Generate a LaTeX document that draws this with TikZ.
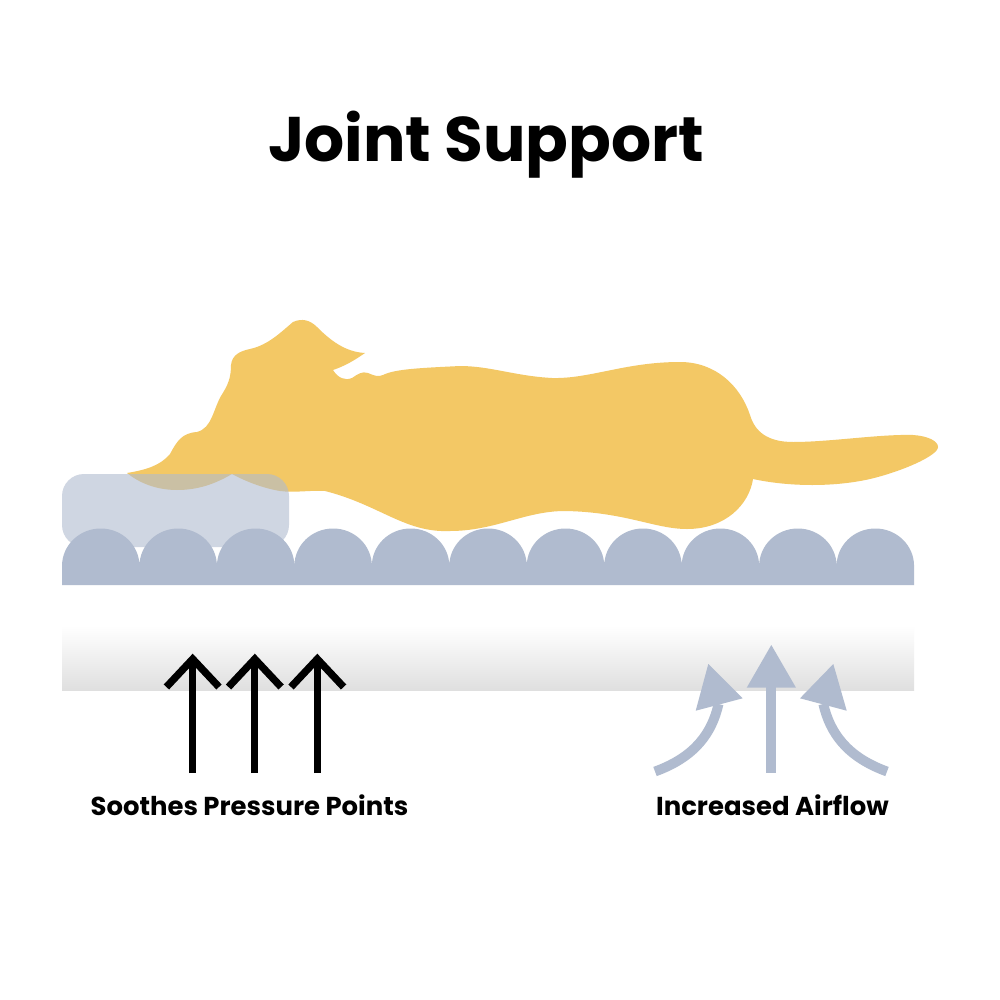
\documentclass[tikz,border=0pt]{standalone}
\usepackage{fontspec}
\setmainfont{Poppins}
\definecolor{dogyellow}{HTML}{F3C865}
\definecolor{foamblue}{HTML}{B0BBCF}
\definecolor{bandgray}{HTML}{DFDFDF}
\tikzset{
  headline/.style={font=\bfseries\fontsize{63}{70}\selectfont, text=black, anchor=base, inner sep=0pt},
  caption/.style={font=\bfseries\fontsize{25.9}{30}\selectfont, text=black, anchor=base, inner sep=0pt},
  pressure/.style={draw=black, line width=7.3pt, miter limit=10},
  airstem/.style={draw=foamblue, line width=9.8pt},
  airhead/.style={fill=foamblue, draw=none},
}
\begin{document}
\begin{tikzpicture}[x=1pt,y=-1pt]
\useasboundingbox (0,0) rectangle (1000,1000);
\fill[white] (0,0) rectangle (1000,1000);

% floor band under the mattress
\shade[top color=white, bottom color=bandgray] (62,626) rectangle (914,690);

% dog silhouette: muzzle, head and ear
\fill[dogyellow] (127,473)
  .. controls (145,470) and (160,466) .. (170,454)
  .. controls (177,441) and (182,433) .. (197,432)
  .. controls (212,428) and (213,410) .. (221,396)
  .. controls (228,385) and (231,378) .. (231,365)
  .. controls (232,355) and (240,351) .. (250,349)
  .. controls (268,345) and (280,333) .. (293,322)
  .. controls (302,318) and (310,320) .. (317,327)
  .. controls (330,340) and (345,352) .. (365,353)
  .. controls (355,360) and (345,366) .. (333,370)
  .. controls (338,378) and (345,381) .. (352,378)
  .. controls (358,374) and (362,371) .. (368,373)
  .. controls (375,376) and (378,377) .. (383,375)
  % back, haunch and tail
  .. controls (395,369) and (420,368) .. (460,366)
  .. controls (490,366) and (515,376) .. (552,378)
  .. controls (590,379) and (625,362) .. (680,362)
  .. controls (715,362) and (740,385) .. (750,415)
  .. controls (755,432) and (768,442) .. (793,442)
  .. controls (830,442) and (880,434) .. (913,435)
  .. controls (928,436) and (938,441) .. (938,447)
  .. controls (938,456) and (900,472) .. (870,479)
  .. controls (835,487) and (790,487) .. (753,479)
  % belly and chin
  .. controls (749,505) and (725,529) .. (687,529)
  .. controls (655,529) and (625,512) .. (565,511)
  .. controls (525,511) and (495,531) .. (450,531)
  .. controls (405,533) and (380,505) .. (325,491)
  .. controls (310,490) and (295,493) .. (280,491)
  .. controls (262,488) and (245,481) .. (232,474)
  .. controls (215,484) and (198,490) .. (177,490)
  .. controls (155,490) and (138,482) .. (127,473)
  -- cycle;

% translucent pillow resting on the foam
\fill[foamblue, opacity=0.6, rounded corners=22pt] (62,474) rectangle (289,547);

% convoluted foam layer
\fill[foamblue] (62,585) -- (62,566)
  \foreach \i in {0,...,10} { arc[start angle=180, end angle=0, x radius=38.73pt, y radius=37.5pt] }
  -- (914,585) -- cycle;

% pressure arrows
\foreach \n/\x in {a/192.7,b/254.8,c/317.3} {
  \coordinate (base\n) at (\x,773);
  \coordinate (apex\n) at (\x,659);
  \coordinate (left\n) at (\x-26.3,687);
  \coordinate (right\n) at (\x+26.3,687);
  \draw[pressure] (base\n) -- (apex\n);
  \draw[pressure] (left\n) -- (apex\n) -- (right\n);
}

% airflow arrows
\coordinate (midtail) at (771.3,772.7);
\coordinate (midhead) at (771.3,686);
\coordinate (lefttail) at (655,771.5);
\coordinate (lefthead) at (718.5,704);
\coordinate (righttail) at (887,771.5);
\coordinate (righthead) at (823.3,704);
\draw[airstem] (midtail) -- (midhead);
\fill[airhead] (771.3,645) -- (796,687.7) -- (746.7,687.7) -- cycle;
\draw[airstem] (lefttail) .. controls (695,757) and (712,733) .. (lefthead);
\fill[airhead] (708.3,664) -- (742.7,698.3) -- (695.7,710.7) -- cycle;
\draw[airstem] (righttail) .. controls (847,757) and (830,733) .. (righthead);
\fill[airhead] (833.3,664) -- (846.7,710.7) -- (800,698.3) -- cycle;

% labels
\node[headline] (title) at (486,162) {Joint Support};
\node[caption] (soothes) at (249.5,815) {Soothes Pressure Points};
\node[caption] (airflow) at (772.5,815) {Increased Airflow};
\end{tikzpicture}
\end{document}
